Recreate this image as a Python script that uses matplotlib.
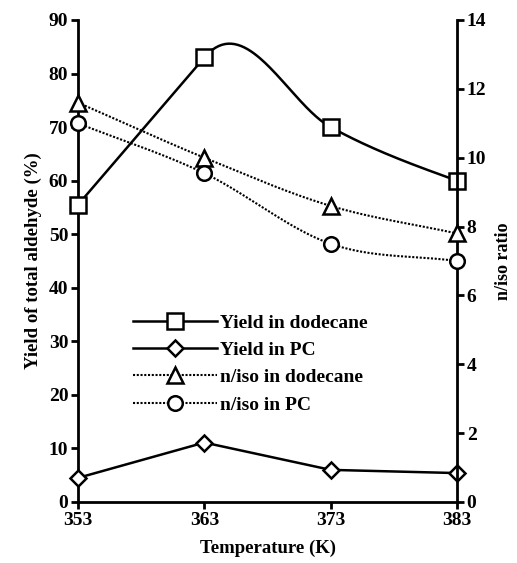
import numpy as np
import matplotlib
matplotlib.use("Agg")
import matplotlib.pyplot as plt
from matplotlib.lines import Line2D

temperature = [353, 363, 373, 383]
yield_dodecane = [55.5, 83.0, 70.0, 60.0]
yield_pc = [4.5, 11.1, 6.0, 5.4]
niso_dodecane = [11.6, 10.0, 8.6, 7.8]
niso_pc = [11.0, 9.55, 7.5, 7.0]

left_ticks = [0, 10, 20, 30, 40, 50, 60, 70, 80, 90]
right_ticks = [0, 2, 4, 6, 8, 10, 12, 14]
labels = ["Yield in dodecane", "Yield in PC", "n/iso in dodecane", "n/iso in PC"]


def hermite(x, y, mode='catmull', n=80):
    """Cubic Hermite curve through the data points.
    mode 'catmull': tangent = mean of adjacent slopes.
    mode 'steep'  : tangent = steeper adjacent slope, natural-type ends."""
    x = np.asarray(x, float)
    y = np.asarray(y, float)
    s = np.diff(y) / np.diff(x)
    m = np.empty_like(y)
    for i in range(1, len(y) - 1):
        if mode == 'steep':
            m[i] = s[i - 1] if abs(s[i - 1]) > abs(s[i]) else s[i]
        else:
            m[i] = 0.5 * (s[i - 1] + s[i])
    if mode == 'steep':
        m[0] = (3 * s[0] - m[1]) / 2
        m[-1] = (3 * s[-1] - m[-2]) / 2
    else:
        m[0] = s[0]
        m[-1] = s[-1]
    xs, ys = [], []
    for i in range(len(x) - 1):
        h = x[i + 1] - x[i]
        t = np.linspace(0, 1, n)
        h00 = 2 * t**3 - 3 * t**2 + 1
        h10 = t**3 - 2 * t**2 + t
        h01 = -2 * t**3 + 3 * t**2
        h11 = t**3 - t**2
        ys.append(h00 * y[i] + h10 * h * m[i] + h01 * y[i + 1] + h11 * h * m[i + 1])
        xs.append(x[i] + t * h)
    return np.concatenate(xs), np.concatenate(ys)


plt.rcParams['font.family'] = ['Liberation Serif', 'DejaVu Serif']

W, H = 517, 563
fig = plt.figure(figsize=(W / 100, H / 100), dpi=100)
L, R, B, T = 78, 457, 502, 20
ax = fig.add_axes([L / W, 1 - B / H, (R - L) / W, (B - T) / H])
ax2 = ax.twinx()

lw_axis = 2.0
for a in (ax, ax2):
    a.spines['top'].set_visible(False)
    for sp in ('left', 'right', 'bottom'):
        a.spines[sp].set_linewidth(lw_axis)
    a.set_xlim(353, 383)
ax.spines['right'].set_visible(False)
ax2.spines['left'].set_visible(False)
ax2.spines['bottom'].set_visible(False)

ax.set_ylim(0, 90)
ax2.set_ylim(0, 14)
ax.set_xticks(temperature)
ax.set_yticks(left_ticks)
ax2.set_yticks(right_ticks)

tickfont = dict(fontsize=14, fontweight='bold')
ax.set_xticklabels([str(t) for t in temperature], **tickfont)
ax.set_yticklabels([str(t) for t in left_ticks], **tickfont)
ax2.set_yticklabels([str(t) for t in right_ticks], **tickfont)
ax.tick_params(axis='both', direction='out', length=5, width=lw_axis, pad=2)
ax2.tick_params(axis='y', direction='out', length=5, width=lw_axis, pad=2)

black = 'black'
ms_kw = dict(color=black, markerfacecolor='white', markeredgecolor=black,
             markeredgewidth=1.8, clip_on=False, zorder=5)

# Yield in dodecane (squares, smooth solid)
xs, ys = hermite(temperature, yield_dodecane, mode='steep')
ax.plot(xs, ys, color=black, lw=1.8, clip_on=False, zorder=3)
ax.plot(temperature, yield_dodecane, ls='none', marker='s', markersize=11.5, **ms_kw)

# Yield in PC (diamonds, solid)
ax.plot(temperature, yield_pc, color=black, lw=1.8, clip_on=False, zorder=3)
ax.plot(temperature, yield_pc, ls='none', marker='D', markersize=7.8, **ms_kw)

dot = (0, (1, 0.8))
# n/iso dodecane (triangles, dotted)
xs, ys = hermite(temperature, niso_dodecane)
ax2.plot(xs, ys, color=black, lw=1.5, ls=dot, clip_on=False, zorder=3)
ax2.plot(temperature, niso_dodecane, ls='none', marker='^', markersize=11, **ms_kw)

# n/iso PC (circles, dotted)
xs, ys = hermite(temperature, niso_pc)
ax2.plot(xs, ys, color=black, lw=1.5, ls=dot, clip_on=False, zorder=3)
ax2.plot(temperature, niso_pc, ls='none', marker='o', markersize=10.5, **ms_kw)

labfont = dict(fontsize=13.5, fontweight='bold')
ax.set_xlabel('Temperature (K)', labelpad=8, **labfont)
ax.set_ylabel('Yield of total aldehyde (%)', labelpad=5, **labfont)
ax2.set_ylabel('n/iso ratio', labelpad=6, fontsize=13, fontweight='bold')

handles = [
    Line2D([], [], color=black, lw=1.8, marker='s', markersize=11.5,
           markerfacecolor='white', markeredgecolor=black, markeredgewidth=1.8),
    Line2D([], [], color=black, lw=1.8, marker='D', markersize=7.8,
           markerfacecolor='white', markeredgecolor=black, markeredgewidth=1.8),
    Line2D([], [], color=black, lw=1.5, ls=dot, marker='^', markersize=11,
           markerfacecolor='white', markeredgecolor=black, markeredgewidth=1.8),
    Line2D([], [], color=black, lw=1.5, ls=dot, marker='o', markersize=10.5,
           markerfacecolor='white', markeredgecolor=black, markeredgewidth=1.8),
]
leg = ax2.legend(handles, labels, loc='upper left',
                 bbox_to_anchor=(133 / W, 1 - 314 / H), bbox_transform=fig.transFigure,
                 frameon=False, prop=dict(size=14, weight='bold'),
                 handlelength=4.3, handletextpad=0.15,
                 labelspacing=0.5, borderpad=0, borderaxespad=0, numpoints=1)

fig.savefig('out.png', dpi=100)
